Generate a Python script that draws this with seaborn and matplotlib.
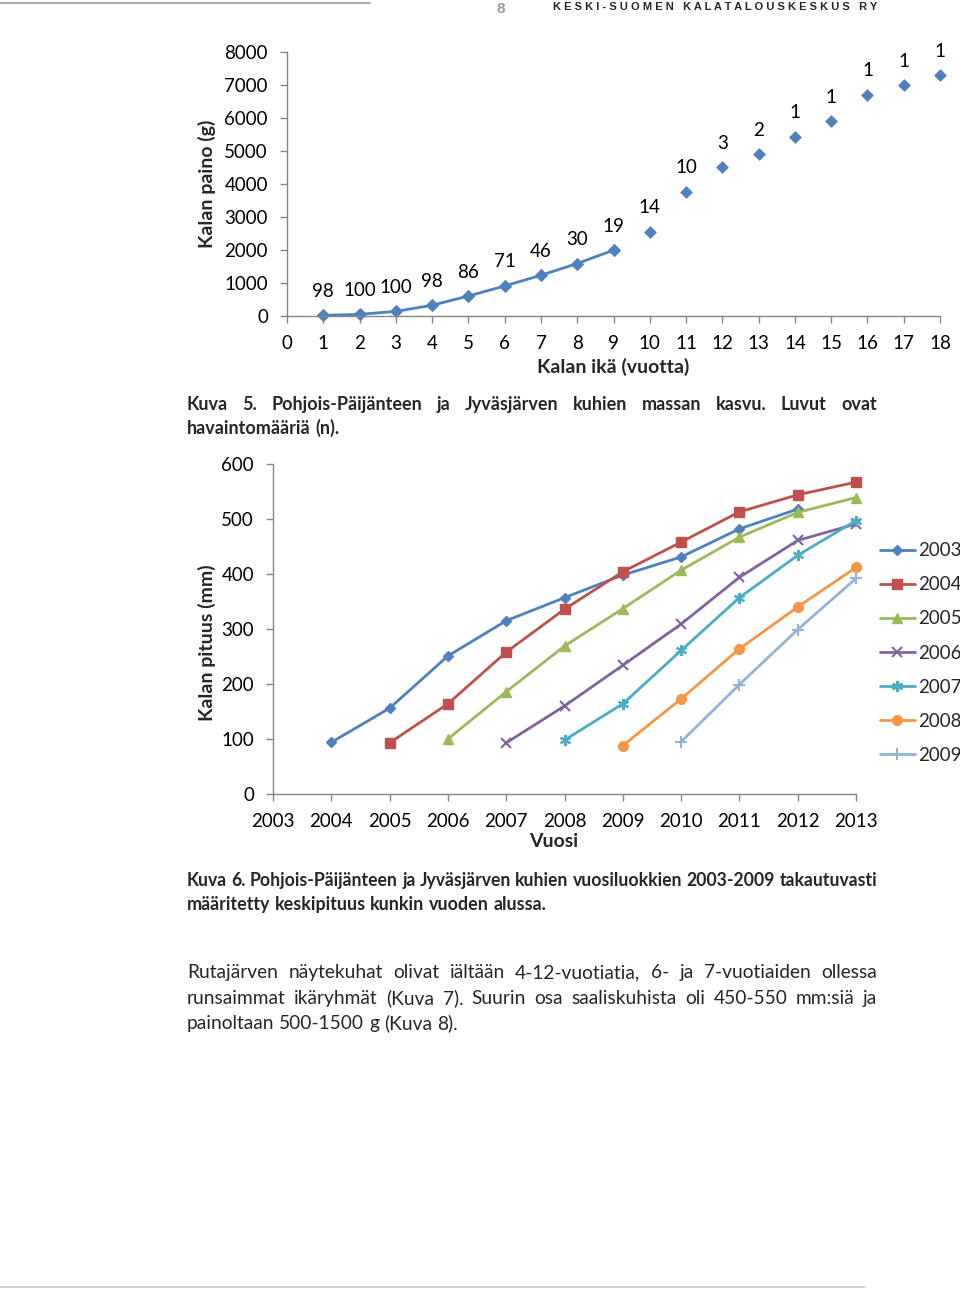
import numpy as np
import pandas as pd
import matplotlib
matplotlib.use("Agg")
import matplotlib.pyplot as plt
import seaborn as sns

# ---------------- data ----------------
ages = list(range(1, 19))
weights = [20, 50, 140, 325, 605, 910, 1235, 1590, 1995,
           2560, 3765, 4505, 4900, 5435, 5900, 6705, 6995, 7290]
counts = [98, 100, 100, 98, 86, 71, 46, 30, 19, 14, 10, 3, 2, 1, 1, 1, 1, 1]
line_until_age = 9

years = list(range(2003, 2014))
cohorts = ["2003", "2004", "2005", "2006", "2007", "2008", "2009"]
len_2003 = [94, 156, 251, 315, 357, 398, 431, 482, 518]          # 2004-2012
len_2004 = [93, 164, 258, 336, 404, 458, 513, 544, 567]          # 2005-2013
len_2005 = [100, 186, 269, 337, 407, 467, 512, 539]              # 2006-2013
len_2006 = [93, 160, 234, 309, 394, 461, 491]                    # 2007-2013
len_2007 = [98, 164, 261, 357, 434, 497]                         # 2008-2013
len_2008 = [88, 173, 264, 340, 412]                              # 2009-2013
len_2009 = [95, 199, 299, 392]                                   # 2010-2013
cohort_lengths = [len_2003, len_2004, len_2005, len_2006, len_2007, len_2008, len_2009]
cohort_start = [2004, 2005, 2006, 2007, 2008, 2009, 2010]

colors = ["#4F81BD", "#C0504D", "#9BBB59", "#8064A2", "#4BACC6", "#F79646", "#95B3D7"]
markers = ["D", "s", "^", "x", (6, 2, 0), "o", "+"]
msizes = [5, 7, 7, 7, 8, 7, 8]

sns.set_theme(style="white")
FONT = ["Lato", "DejaVu Sans"]
plt.rcParams["font.family"] = FONT

W, H = 960, 1290
fig = plt.figure(figsize=(9.6, 12.9), dpi=100)


def fx(x):
    return x / W


def fy(y):
    return 1 - y / H


def axes_px(x0, x1, y_top, y_bot):
    return fig.add_axes([fx(x0), fy(y_bot), (x1 - x0) / W, (y_bot - y_top) / H])


SPINE = "#868686"


def style_axes(ax):
    for s in ["top", "right"]:
        ax.spines[s].set_visible(False)
    for s in ["left", "bottom"]:
        ax.spines[s].set_color(SPINE)
        ax.spines[s].set_linewidth(1.0)
    ax.tick_params(axis="both", which="major", direction="out", length=5,
                   width=1, color=SPINE, labelsize=13.5, labelcolor="black",
                   left=True, bottom=True, pad=8.7)
    ax.set_facecolor("white")


# ---------------- chart 1 ----------------
ax1 = axes_px(287, 940, 52, 316)
df1 = pd.DataFrame({"age": ages, "w": weights, "n": counts})
df_line = df1[df1.age <= line_until_age]
df_pts = df1[df1.age > line_until_age]
sns.lineplot(data=df_line, x="age", y="w", ax=ax1, color=colors[0], lw=2,
             marker="D", markersize=6, markeredgecolor=colors[0])
sns.scatterplot(data=df_pts, x="age", y="w", ax=ax1, color=colors[0],
                marker="D", s=36, edgecolor=colors[0], clip_on=False)
for a, w, n in zip(ages, weights, counts):
    ax1.annotate(str(n), (a, w), xytext=(0, 24), textcoords="offset pixels",
                 ha="center", va="center", fontsize=13.5, color="black",
                 annotation_clip=False)
ax1.set_xlim(0, 18)
ax1.set_ylim(0, 8000)
ax1.set_xticks(range(0, 19))
ax1.set_yticks(range(0, 8001, 1000))
style_axes(ax1)
ax1.set_xlabel("Kalan ikä (vuotta)", fontsize=14, fontweight="bold", labelpad=4)
ax1.set_ylabel("Kalan paino (g)", fontsize=14, fontweight="bold", labelpad=6)
for l in ax1.get_lines():
    l.set_clip_on(False)

# ---------------- chart 2 ----------------
ax2 = axes_px(273, 856, 464, 794)
rows = []
for c, start, vals in zip(cohorts, cohort_start, cohort_lengths):
    for i, v in enumerate(vals):
        rows.append({"cohort": c, "year": start + i, "len": v})
df2 = pd.DataFrame(rows)
for c, col, mk, ms in zip(cohorts, colors, markers, msizes):
    sub = df2[df2.cohort == c]
    sns.lineplot(data=sub, x="year", y="len", ax=ax2, color=col, lw=2,
                 marker=mk, markersize=ms, markeredgecolor=col,
                 markeredgewidth=1.5 if mk in ("x", "+", (6, 2, 0)) else 1,
                 label=c)
for l in ax2.get_lines():
    l.set_clip_on(False)
ax2.set_xlim(2003, 2013)
ax2.set_ylim(0, 600)
ax2.set_xticks(years)
ax2.set_yticks(range(0, 601, 100))
style_axes(ax2)
ax2.set_xlabel("Vuosi", fontsize=14, fontweight="bold", labelpad=2)
ax2.set_ylabel("Kalan pituus (mm)", fontsize=14, fontweight="bold", labelpad=4)
fig.canvas.draw()
ax2.xaxis.label.set_x(0.482)
ax2.yaxis.label.set_y(0.458)
handles, labels = ax2.get_legend_handles_labels()
ax2.legend(handles, labels, loc="center left", bbox_to_anchor=(fx(872), fy(653)),
           bbox_transform=fig.transFigure, frameon=False, fontsize=13.5,
           handlelength=1.9, handletextpad=0.16, labelspacing=0.91,
           borderaxespad=0)

# ---------------- page text ----------------
renderer = fig.canvas.get_renderer()


def justify(text, y_base, x0=187, x1=877, size=12.5, weight="normal", full=True):
    words = text.split(" ")
    ts = [fig.text(0, fy(y_base), w, fontsize=size, fontweight=weight,
                   ha="left", va="baseline") for w in words]
    widths = [t.get_window_extent(renderer).width for t in ts]
    t1 = fig.text(0, 0, "a a", fontsize=size, fontweight=weight)
    t2 = fig.text(0, 0, "aa", fontsize=size, fontweight=weight)
    space = t1.get_window_extent(renderer).width - t2.get_window_extent(renderer).width
    t1.remove()
    t2.remove()
    if full and len(words) > 1:
        gap = max(space * 0.8, (x1 - x0 - sum(widths)) / (len(words) - 1))
    else:
        gap = space
    x = x0
    for t, w in zip(ts, widths):
        t.set_x(fx(x))
        x += w + gap


cap5 = "Kuva 5. Pohjois-Päijänteen ja Jyväsjärven kuhien massan kasvu. Luvut ovat"
cap5b = "havaintomääriä (n)."
cap6 = "Kuva 6. Pohjois-Päijänteen ja Jyväsjärven kuhien vuosiluokkien 2003-2009 takautuvasti"
cap6b = "määritetty keskipituus kunkin vuoden alussa."
par1 = "Rutajärven näytekuhat olivat iältään 4-12-vuotiatia, 6- ja 7-vuotiaiden ollessa"
par2 = "runsaimmat ikäryhmät (Kuva 7). Suurin osa saaliskuhista oli 450-550 mm:siä ja"
par3 = "painoltaan 500-1500 g (Kuva 8)."

justify(cap5, 410, size=13, weight="bold")
justify(cap5b, 434, size=13, weight="bold", full=False)
justify(cap6, 886, size=12.7, weight="bold")
justify(cap6b, 910, size=12.9, weight="bold", full=False)
justify(par1, 978, size=13.8, weight="normal")
justify(par2, 1004, size=13.8, weight="normal")
justify(par3, 1029, size=13.8, weight="normal", full=False)

# header
fig.add_artist(plt.Line2D([0, fx(370)], [fy(3), fy(3)], color="#9a9a9a", lw=1.2))
fig.text(fx(501), fy(9), "8", fontsize=11, color="#9a9a9a", fontweight="bold",
         ha="center", va="center", family=["Liberation Sans", "DejaVu Sans"])
fig.text(fx(553), fy(10), "K E S K I - S U O M E N   K A L A T A L O U S K E S K U S   R Y",
         fontsize=8, fontweight="bold", ha="left", va="baseline",
         family=["Liberation Sans", "DejaVu Sans"])
fig.add_artist(plt.Line2D([0, fx(865)], [fy(1287), fy(1287)], color="#c8c8c8", lw=1.2))

fig.savefig("out.png", dpi=100, facecolor="white")
